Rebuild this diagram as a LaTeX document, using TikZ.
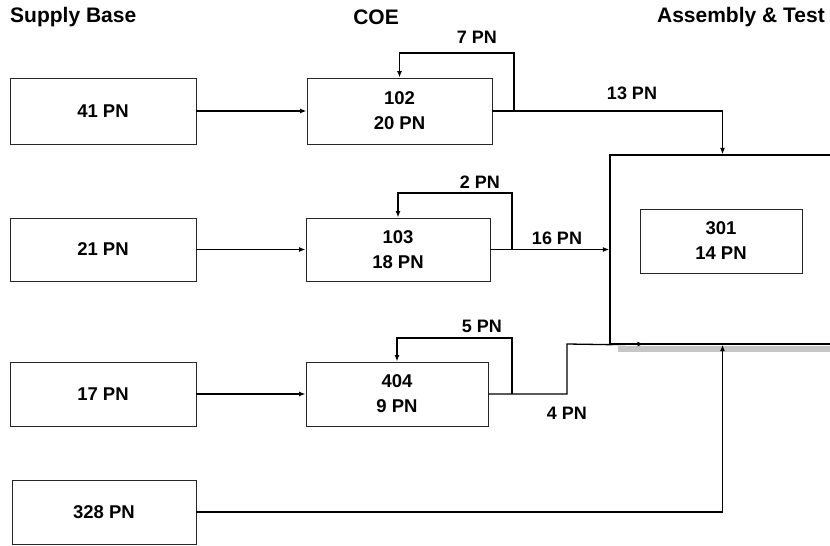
\documentclass[tikz,border=0pt]{standalone}
\usepackage{fontspec}
\setmainfont{Liberation Sans}
\usetikzlibrary{arrows.meta}
\begin{document}
\begin{tikzpicture}[x=1pt,y=-1pt,
  box/.style={draw=black!85,line width=0.9pt,rectangle,inner sep=0pt,align=center,
    font=\fontsize{18.5}{25}\selectfont\bfseries},
  header/.style={font=\fontsize{21}{24}\selectfont\bfseries,inner sep=0pt},
  lbl/.style={font=\fontsize{18}{20}\selectfont\bfseries,inner sep=0pt},
  flow/.style={line width=1.3pt,black},
  arr/.style={flow,-{Latex[length=6.5pt,width=5pt]}}]
\useasboundingbox (0,0) rectangle (830,546);

% column headers
\node[header,anchor=west] (hsb) at (10,17) {Supply Base};
\node[header] (hcoe) at (376,17) {COE};
\node[header,anchor=east] (hat) at (825,17) {Assembly \& Test};

% shaded strip under the assembly area
\fill[gray!45] (618,346) rectangle (830,352);

% supply base boxes
\node[box,minimum width=186pt,minimum height=66pt] (sb1) at (103,111) {41 PN};
\node[box,minimum width=186pt,minimum height=63pt] (sb2) at (103,249.5) {21 PN};
\node[box,minimum width=186pt,minimum height=64pt] (sb3) at (103,394) {17 PN};
\node[box,minimum width=184pt,minimum height=64pt] (sb4) at (104,512) {328 PN};

% COE boxes
\node[box,minimum width=185pt,minimum height=66pt] (c102) at (399.5,111) {102\\20 PN};
\node[box,minimum width=184pt,minimum height=63pt] (c103) at (398,249.5) {103\\18 PN};
\node[box,minimum width=182pt,minimum height=64pt] (c404) at (397,394) {404\\9 PN};

% assembly & test area and its inner box
\node[draw=black,line width=1.3pt,rectangle,minimum width=225pt,minimum height=189pt,inner sep=0pt]
  (at) at (722.5,249.5) {};
\node[box,minimum width=162pt,minimum height=64pt] (a301) at (721,241) {301\\14 PN};

% junctions and bends
\coordinate (j1) at (514,111);
\coordinate (l1) at (514,53);
\coordinate (j2) at (512,249.5);
\coordinate (l2) at (512,193);
\coordinate (j3) at (512,394);
\coordinate (l3) at (512,338);
\coordinate (s1) at (567,394);
\coordinate (s2) at (567,344);
\coordinate (m1) at (644,344);
\coordinate (c4) at (722.5,512);

% supply to COE
\draw[arr] (sb1) -- (c102);
\draw[arr] (sb2) -- (c103);
\draw[arr] (sb3) -- (c404);

% rework loops
\draw[arr] (j1) -- (l1) -| (c102.north);
\draw[arr] (j2) -- (l2) -| (c103.north);
\draw[arr] (j3) -- (l3) -| (c404.north);

% COE to assembly
\draw[flow] (c102.east) -- (j1);
\draw[arr] (j1) -| (at.north);
\draw[arr] (c103.east) -- (at.west);
\draw[flow] (c404.east) -- (s1) -- (s2) -- (at.south west);
\draw[arr] (at.south west) -- (m1);
\draw[arr] (sb4.east) -- (c4) -- (at.south);

% flow labels
\node[lbl] (n7) at (477,37) {7 PN};
\node[lbl] (n2) at (480,182) {2 PN};
\node[lbl] (n5) at (482,326) {5 PN};
\node[lbl] (n13) at (632,93) {13 PN};
\node[lbl] (n16) at (557,238) {16 PN};
\node[lbl] (n4) at (567,413) {4 PN};
\end{tikzpicture}
\end{document}
